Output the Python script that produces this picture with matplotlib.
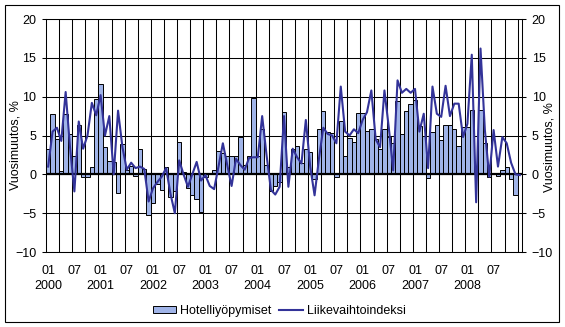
import numpy as np
import matplotlib
matplotlib.use("Agg")
import matplotlib.pyplot as plt
from matplotlib.patches import Rectangle
from matplotlib.lines import Line2D

plt.rcParams['font.family'] = ['Liberation Sans', 'DejaVu Sans']
plt.rcParams['font.size'] = 9

# Kuukausittaiset vuosimuutokset 01/2000 - 01/2009, %
hotelliyopymiset = [
    3.3, 7.8, 4.5, 0.4, 7.8, 5.2, 2.4, 6.4, -0.3, -0.3, 1.0, 9.7,
    11.6, 3.5, 1.7, 1.6, -2.4, 3.9, 0.5, 1.1, -0.2, 3.3, 0.7, -5.3,
    -3.7, -1.2, -2.0, 0.9, -2.9, -2.2, 4.2, 0.3, -1.8, -2.6, -3.2, -4.9,
    -0.3, 0.2, 0.5, 3.0, 2.7, 2.3, 2.3, 2.3, 4.8, 1.2, 2.4, 9.8,
    2.4, 5.9, 1.2, -2.2, -1.5, -1.0, 8.0, 1.0, 3.3, 3.6, 1.4, 3.2,
    2.9, -0.6, 5.8, 8.1, 5.5, 5.3, -0.4, 6.9, 2.4, 4.7, 4.1, 7.9,
    7.9, 5.6, 5.9, 4.6, 3.3, 5.8, 4.8, 4.0, 9.4, 5.2, 8.2, 9.1,
    9.6, 6.2, 5.0, -0.5, 5.4, 6.3, 4.4, 6.4, 6.4, 5.9, 3.6, 6.1,
    6.1, 8.3, 0.5, 8.3, 4.0, -0.3, 0.2, -0.2, 0.6, 1.0, -0.6, -2.7,
    np.nan,
]
liikevaihtoindeksi = [
    1.0, 5.5, 6.0, 4.3, 10.6, 3.5, -2.2, 6.8, 3.3, 5.0, 9.2, 7.6,
    10.2, 5.0, 7.5, 0.0, 8.2, 3.5, 0.6, 1.5, 0.8, 1.0, 0.7, -3.5,
    -1.8, -1.0, -0.3, 0.8, -2.5, -5.0, 1.8, 0.0, -1.6, 0.0, 1.6, -0.8,
    -0.1, -1.5, -1.9, 1.0, 4.0, 1.2, -1.5, 2.0, 1.2, 0.6, 2.1, 2.2,
    2.2, 7.5, 2.5, -2.0, -2.6, -1.6, 7.5, -1.6, 3.3, 2.2, 1.4, 7.0,
    1.0, -2.7, 2.0, 6.0, 5.2, 5.0, 4.0, 11.3, 5.5, 5.0, 5.8, 5.3,
    7.0, 8.0, 10.8, 4.5, 3.5, 10.8, 6.0, 0.5, 12.1, 10.5, 11.0, 10.5,
    11.0, 5.5, 7.8, 0.8, 11.3, 7.8, 7.4, 11.4, 7.5, 9.1, 9.1, 4.8,
    6.5, 15.4, -3.6, 16.2, 5.7, -0.3, 5.7, 1.0, 4.8, 4.0, 1.5, 0.0,
    -0.1,
]
vuodet = list(range(2000, 2009))
kk_nimet = ["01", "07"]

n = len(hotelliyopymiset)
x = np.arange(n)

W, H = 565, 327
fig = plt.figure(figsize=(W / 100, H / 100), dpi=100)
ax = fig.add_axes([46 / W, 1 - 252 / H, 476 / W, 233 / H])

bar_vari = '#A0B4E8'
viiva_vari = '#333399'

# ruudukko
for yv in range(-10, 21, 5):
    ax.axhline(yv, color='black', lw=0.75, zorder=0)
for k in range(1, 37):
    ax.axvline(-0.5 + 3 * k, color='black', lw=0.75, zorder=0)

ax.bar(x, hotelliyopymiset, width=1.0, color=bar_vari, edgecolor='black',
       linewidth=0.7, zorder=2)
ax.axhline(0, color='black', lw=1.6, zorder=3)
ax.plot(x, liikevaihtoindeksi, color=viiva_vari, lw=1.5, zorder=4)

ax.set_xlim(-0.5, n - 0.5)
ax.set_ylim(-10, 20)
ax.set_yticks(range(-10, 21, 5))
ax.tick_params(axis='y', direction='out', length=3, width=0.75, pad=4,
               left=True, right=True, labelleft=True, labelright=True)

xt = list(range(0, n - 1, 6))
xl = []
for i in xt:
    if i % 12 == 0:
        xl.append(kk_nimet[0] + "\n" + str(vuodet[i // 12]))
    else:
        xl.append(kk_nimet[1])
ax.set_xticks(xt)
ax.set_xticklabels(xl, linespacing=1.4)
ax.tick_params(axis='x', length=0, pad=9)

for s in ax.spines.values():
    s.set_color('black')
    s.set_linewidth(0.75)

fig.text(16 / W, 1 - 145 / H, "Vuosimuutos, %", rotation=90,
         ha='center', va='center')
fig.text(550 / W, 1 - 147 / H, "Vuosimuutos, %", rotation=90,
         ha='center', va='center')

kahvat = [Rectangle((0, 0), 1, 1, facecolor=bar_vari, edgecolor='black', lw=0.7),
          Line2D([0], [0], color=viiva_vari, lw=1.5)]
fig.legend(kahvat, ["Hotelliyöpymiset", "Liikevaihtoindeksi"], loc='center',
           bbox_to_anchor=(279 / W, 1 - 311 / H), ncol=2, frameon=False,
           handlelength=1.9, handleheight=0.55, handletextpad=0.3,
           columnspacing=0.6, borderpad=0)

fig.add_artist(Rectangle((5 / W, 5 / H), 554 / W, 317 / H, transform=fig.transFigure,
                         fill=False, edgecolor='black', lw=0.8))

fig.savefig("out.png", dpi=100)
